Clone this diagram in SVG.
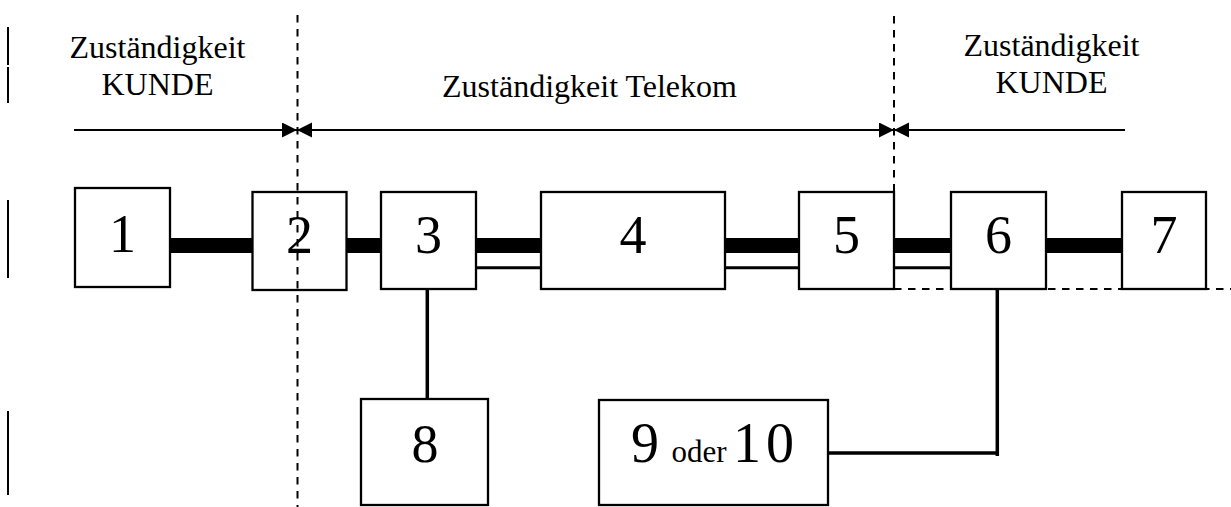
<svg xmlns="http://www.w3.org/2000/svg" width="1231" height="507" viewBox="0 0 1231 507">
<style>
.box{fill:#fff;stroke:#000;stroke-width:2.3}
.t{font-family:"Liberation Serif","Times New Roman",serif;fill:#000}
.lbl{font-size:32px;text-anchor:middle}
.num{font-size:54px;text-anchor:middle}
.thick{stroke:#000;stroke-width:15;fill:none}
.thin{stroke:#000;stroke-width:3;fill:none}
.conn{stroke:#000;stroke-width:3.5;fill:none}
.dash{stroke:#000;stroke-width:2;stroke-dasharray:7.5 6.5;fill:none}
.arr{stroke:#000;stroke-width:2;fill:none}
.bar{stroke:#000;stroke-width:2}
</style>
<defs>
<marker id="ah" markerUnits="userSpaceOnUse" markerWidth="16" markerHeight="16" refX="15" refY="7.5" orient="auto-start-reverse">
<path d="M0,0 L15,7.5 L0,15 z" fill="#000"/>
</marker>
</defs>
<rect width="1231" height="507" fill="#fff"/>
<g id="margin-bars">
<line class="bar" x1="8" y1="27" x2="8" y2="65"/>
<line class="bar" x1="8" y1="67" x2="8" y2="103"/>
<line class="bar" x1="8" y1="200" x2="8" y2="278"/>
<line class="bar" x1="8" y1="411" x2="8" y2="495"/>
</g>
<g id="labels">
<text class="t lbl" x="157.5" y="58">Zuständigkeit</text>
<text class="t lbl" x="157.5" y="95">KUNDE</text>
<text class="t lbl" x="589.5" y="97">Zuständigkeit Telekom</text>
<text class="t lbl" x="1051.5" y="56">Zuständigkeit</text>
<text class="t lbl" x="1051.5" y="93">KUNDE</text>
</g>
<g id="connectors">
<line class="arr" x1="74" y1="130" x2="297" y2="130" marker-end="url(#ah)"/>
<line class="arr" x1="297" y1="130" x2="894" y2="130" marker-start="url(#ah)" marker-end="url(#ah)"/>
<line class="arr" x1="894" y1="130" x2="1125" y2="130" marker-start="url(#ah)"/>
<path class="thick" d="M170,245.5 H252.5 M346.5,245.5 H381 M476,245.5 H541 M725,245.5 H799 M894,245.5 H951 M1046,245.5 H1122"/>
<path class="thin" d="M476,267.7 H541 M725,267.7 H799 M894,267.7 H951"/>
<line class="conn" x1="427.3" y1="289" x2="427.3" y2="399"/>
<path class="conn" d="M828,453 H997.3 V289 M997.3,453 V456"/>
</g>
<g id="node1"><rect class="box" x="75" y="188" width="95" height="99"/><text class="t num" x="122.5" y="252">1</text></g>
<g id="node2"><rect class="box" x="252.5" y="192" width="94" height="98"/><text class="t num" x="299.5" y="253">2</text></g>
<g id="node3"><rect class="box" x="381" y="192" width="95" height="97"/><text class="t num" x="428.5" y="253">3</text></g>
<g id="node4"><rect class="box" x="541" y="192" width="184" height="97"/><text class="t num" x="633" y="253">4</text></g>
<g id="node5"><rect class="box" x="799" y="192" width="95" height="97"/><text class="t num" x="846.5" y="253">5</text></g>
<g id="node6"><rect class="box" x="951" y="192" width="95" height="97"/><text class="t num" x="998.5" y="253">6</text></g>
<g id="node7"><rect class="box" x="1122" y="192" width="84" height="97"/><text class="t num" x="1164" y="253">7</text></g>
<g id="node8"><rect class="box" x="361" y="399" width="127" height="106"/><text class="t num" x="425" y="462">8</text></g>
<g id="node9-10"><rect class="box" x="599" y="400" width="229" height="105"/><text class="t" y="462" font-size="56"><tspan x="631">9</tspan><tspan x="671.5" font-size="31">oder</tspan><tspan x="733" letter-spacing="5">10</tspan></text></g>
<g id="dividers">
<line class="dash" x1="297.5" y1="15" x2="297.5" y2="507"/>
<line class="dash" x1="894" y1="16" x2="894" y2="192"/>
<line class="dash" x1="894" y1="289" x2="1231" y2="289"/>
</g>
</svg>
